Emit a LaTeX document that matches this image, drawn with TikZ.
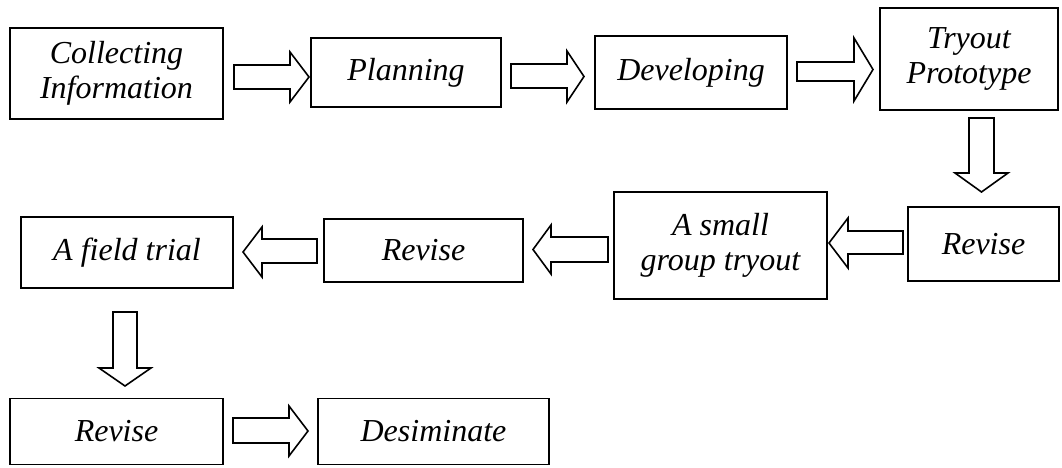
\documentclass[tikz,border=0pt]{standalone}
\usepackage{fontspec}
\setmainfont{Liberation Serif}
\begin{document}
\begin{tikzpicture}[x=1pt,y=-1pt,
  box/.style={draw, line width=1.8pt, inner sep=0pt, align=center,
    font=\fontsize{32}{35}\selectfont\itshape},
  blk/.style={draw, line width=1.6pt, line join=miter, fill=white}]
\useasboundingbox (0,0) rectangle (1062,468);
% boxes
\node[box, minimum width=213pt, minimum height=91pt]  (collect) at (116.5,73.5) {Collecting\\Information};
\node[box, minimum width=190pt, minimum height=69pt]  (plan)    at (406,72.5)   {Planning};
\node[box, minimum width=192pt, minimum height=73pt]  (dev)     at (691,72.5)   {Developing};
\node[box, minimum width=178pt, minimum height=102pt] (tryout)  at (969,59)     {Tryout\\Prototype};
\node[box, minimum width=151pt, minimum height=74pt]  (revA)    at (983.5,244)  {Revise};
\node[box, minimum width=213pt, minimum height=107pt] (small)   at (720.5,245.5){A small\\group tryout};
\node[box, minimum width=199pt, minimum height=63pt]  (revB)    at (423.5,250.5){Revise};
\node[box, minimum width=212pt, minimum height=71pt]  (field)   at (127,252.5)  {A field trial};
\node[box, minimum width=213pt, minimum height=66pt]  (revC)    at (116.5,431.5){Revise};
\node[box, minimum width=231pt, minimum height=66pt]  (desim)   at (433.5,431.5){Desiminate};
% block arrows
\draw[blk] (234,65)--(290,65)--(290,52)--(309,77)--(290,102)--(290,89)--(234,89)--cycle;
\draw[blk] (511,64)--(567,64)--(567,51)--(584,76.5)--(567,102)--(567,88)--(511,88)--cycle;
\draw[blk] (797,62)--(854,62)--(854,38)--(873,69.5)--(854,101)--(854,81)--(797,81)--cycle;
\draw[blk] (969,118)--(969,173)--(955,173)--(981.5,192)--(1008,173)--(994,173)--(994,118)--cycle;
\draw[blk] (903,231)--(848,231)--(848,218)--(829,243)--(848,268)--(848,254)--(903,254)--cycle;
\draw[blk] (608,237)--(551,237)--(551,225)--(533,249.5)--(551,274)--(551,262)--(608,262)--cycle;
\draw[blk] (317,239)--(262,239)--(262,227)--(243,252)--(262,277)--(262,263)--(317,263)--cycle;
\draw[blk] (113,312)--(113,368)--(99,368)--(125,386)--(151,368)--(137,368)--(137,312)--cycle;
\draw[blk] (233,418)--(289,418)--(289,406)--(308,431)--(289,456)--(289,443)--(233,443)--cycle;
\end{tikzpicture}
\end{document}
